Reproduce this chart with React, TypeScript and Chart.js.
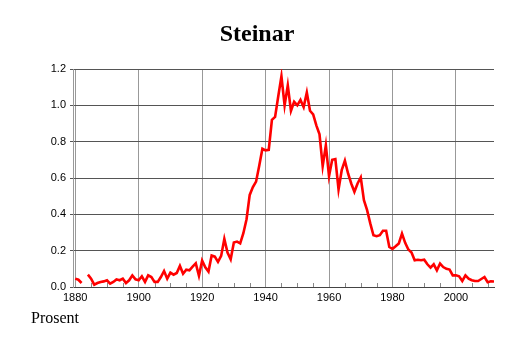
import React, { useEffect, useRef } from 'react';
import { Chart, registerables } from 'chart.js';

Chart.register(...registerables);

const titleText = 'Steinar';
const yAxisTitle = 'Prosent';

const firstYear = 1880;
// Share (percent) per year, 1880..2012; null = no data
const shareValues: (number | null)[] = [
  0.046, 0.04, 0.022, null, 0.068, 0.046, 0.013, 0.022, 0.028, 0.031,
  0.037, 0.018, 0.028, 0.042, 0.037, 0.046, 0.022, 0.037, 0.064, 0.042,
  0.037, 0.059, 0.028, 0.064, 0.055, 0.028, 0.028, 0.055, 0.088, 0.046,
  0.079, 0.068, 0.077, 0.116, 0.073, 0.095, 0.092, 0.112, 0.13, 0.062,
  0.145, 0.108, 0.085, 0.173, 0.167, 0.138, 0.171, 0.265, 0.19, 0.153,
  0.245, 0.25, 0.24, 0.296, 0.373, 0.507, 0.55, 0.58, 0.667, 0.761,
  0.752, 0.755, 0.92, 0.936, 1.05, 1.16, 1.0, 1.11, 0.97, 1.02,
  1.0, 1.03, 0.99, 1.07, 0.97, 0.95, 0.89, 0.84, 0.665, 0.78,
  0.61, 0.70, 0.704, 0.537, 0.643, 0.695, 0.625, 0.57, 0.524, 0.57,
  0.603, 0.478, 0.423, 0.35, 0.285, 0.28, 0.285, 0.31, 0.31, 0.22,
  0.21, 0.224, 0.24, 0.294, 0.243, 0.206, 0.19, 0.147, 0.15, 0.147,
  0.15, 0.125, 0.107, 0.125, 0.092, 0.129, 0.11, 0.10, 0.096, 0.064,
  0.064, 0.059, 0.033, 0.064, 0.046, 0.037, 0.033, 0.033, 0.044, 0.055,
  0.026, 0.031, 0.03,
];

const xTickValues = [1880, 1900, 1920, 1940, 1960, 1980, 2000];
const xMinorTickValues = [
  1885, 1890, 1895, 1905, 1910, 1915, 1925, 1930, 1935, 1945, 1950, 1955,
  1965, 1970, 1975, 1985, 1990, 1995, 2005, 2010,
];
const yTickValues = [0, 0.2, 0.4, 0.6, 0.8, 1.0, 1.2];

const X_MIN = 1879.3;
const X_MAX = 2012;

const minorTicksPlugin = {
  id: 'minorTicks',
  beforeDatasetsDraw(chart: any) {
    const { ctx, chartArea, scales } = chart;
    const x = scales.x;
    ctx.save();
    ctx.strokeStyle = '#888';
    ctx.lineWidth = 1;
    ctx.beginPath();
    for (const v of xMinorTickValues) {
      const px = Math.round(x.getPixelForValue(v)) + 0.5;
      ctx.moveTo(px, chartArea.bottom);
      ctx.lineTo(px, chartArea.bottom - 4);
    }
    ctx.stroke();
    ctx.restore();
  },
};

export default function App() {
  const canvasRef = useRef<HTMLCanvasElement | null>(null);

  useEffect(() => {
    if (!canvasRef.current) return;
    const points = shareValues.map((v, i) => ({ x: firstYear + i, y: v }));
    const chart = new Chart(canvasRef.current, {
      type: 'line',
      data: {
        datasets: [
          {
            data: points as any,
            borderColor: '#ff0000',
            borderWidth: 2.6,
            pointRadius: 0,
            tension: 0,
            spanGaps: false,
            fill: false,
          },
        ],
      },
      plugins: [minorTicksPlugin],
      options: {
        animation: false,
        responsive: false,
        maintainAspectRatio: false,
        layout: { padding: { left: 0, right: 20, top: 69, bottom: 0 } },
        plugins: {
          legend: { display: false },
          title: { display: false },
          tooltip: { enabled: false },
        },
        scales: {
          x: {
            type: 'linear',
            min: X_MIN,
            max: X_MAX,
            afterBuildTicks: (s: any) => {
              s.ticks = xTickValues.map((v) => ({ value: v }));
            },
            afterFit: (s: any) => {
              s.height = 56;
            },
            ticks: {
              color: '#000',
              font: { family: 'Liberation Sans, Arial, sans-serif', size: 11 },
              padding: 4,
              maxRotation: 0,
              autoSkip: false,
              callback: (v: any) => String(v),
            },
            grid: {
              color: '#999',
              lineWidth: 1,
              drawTicks: false,
            },
            border: { color: '#444', width: 1 },
          },
          y: {
            type: 'linear',
            min: 0,
            max: 1.2,
            afterBuildTicks: (s: any) => {
              s.ticks = yTickValues.map((v) => ({ value: v }));
            },
            afterFit: (s: any) => {
              s.width = 73;
            },
            ticks: {
              color: '#000',
              font: { family: 'Liberation Sans, Arial, sans-serif', size: 11 },
              padding: 4,
              callback: (v: any) => Number(v).toFixed(1),
            },
            grid: {
              color: '#555',
              lineWidth: 1,
              tickLength: 3,
              tickColor: '#555',
            },
            border: { color: '#999', width: 1 },
          },
        },
      },
    });
    return () => chart.destroy();
  }, []);

  return (
    <div style={{ position: 'fixed', left: 0, top: 0, width: 514, height: 343, background: '#fff' }}>
      <canvas ref={canvasRef} width={514} height={343} style={{ width: 514, height: 343, display: 'block' }} />
      <div
        style={{
          position: 'absolute',
          left: 0,
          top: 21,
          width: 514,
          textAlign: 'center',
          fontFamily: '"Liberation Serif", "Times New Roman", serif',
          fontWeight: 'bold',
          fontSize: 24,
          lineHeight: '24px',
          color: '#000',
        }}
      >
        {titleText}
      </div>
      <div
        style={{
          position: 'absolute',
          left: 31,
          top: 310,
          fontFamily: '"Liberation Serif", "Times New Roman", serif',
          fontSize: 16,
          lineHeight: '16px',
          color: '#000',
        }}
      >
        {yAxisTitle}
      </div>
    </div>
  );
}
